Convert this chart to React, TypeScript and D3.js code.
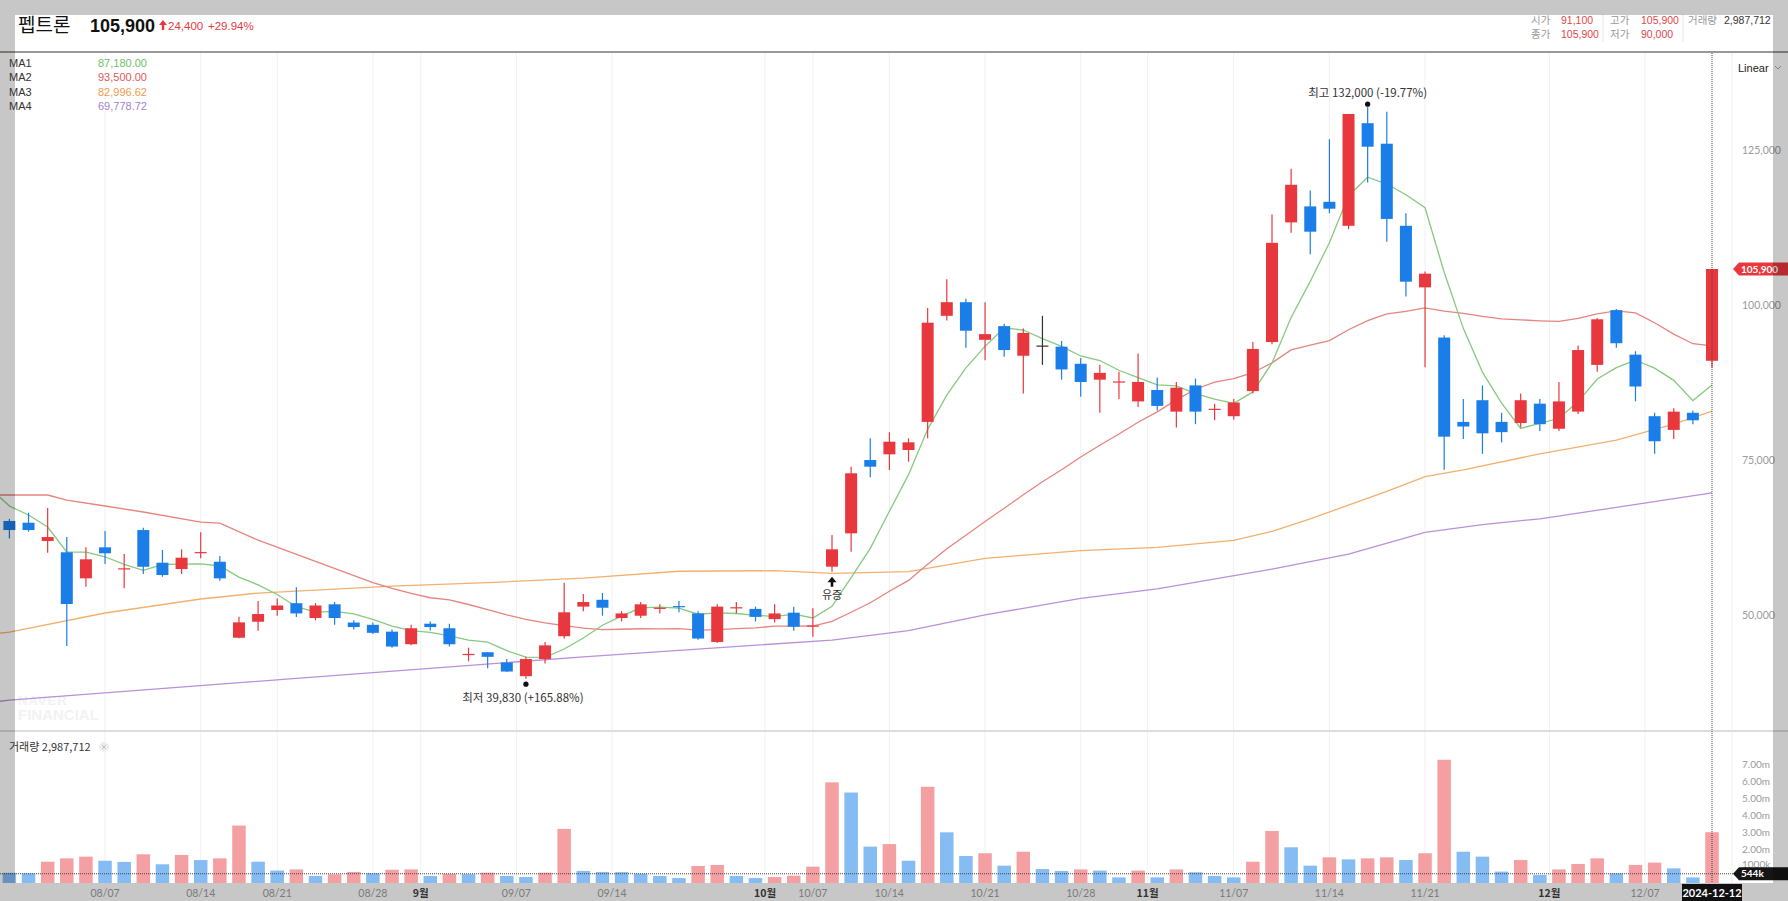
import React, { useEffect, useRef } from 'react'
import * as d3 from 'd3'

// trading days (2024), one candle each
const dates = [
  "07/31","08/01","08/02","08/05","08/06","08/07","08/08","08/09","08/12","08/13",
  "08/14","08/16","08/19","08/20","08/21","08/22","08/23","08/26","08/27","08/28",
  "08/29","08/30","09/02","09/03","09/04","09/05","09/06","09/09","09/10","09/11",
  "09/12","09/13","09/19","09/20","09/23","09/24","09/25","09/26","09/27","09/30",
  "10/02","10/04","10/07","10/08","10/10","10/11","10/14","10/15","10/16","10/17",
  "10/18","10/21","10/22","10/23","10/24","10/25","10/28","10/29","10/30","10/31",
  "11/01","11/04","11/05","11/06","11/07","11/08","11/11","11/12","11/13","11/14",
  "11/15","11/18","11/19","11/20","11/21","11/22","11/25","11/26","11/27","11/28",
  "11/29","12/02","12/03","12/04","12/05","12/06","12/09","12/10","12/11","12/12"
]

const opens = [
  65260, 64980, 62030, 60210, 56010, 61010, 57470, 63800, 58530, 57510,
  60150, 58690, 46430, 49010, 50900, 52000, 49610, 51820, 48880, 48510,
  47410, 45380, 48690, 47960, 43730, 44090, 42440, 40230, 42990, 46670,
  51450, 52550, 49610, 49980, 51170, 51540, 50350, 45750, 51170, 51080,
  49430, 50470, 48300, 57890, 63270, 75090, 76010, 76710, 81240, 98350,
  100550, 94480, 96690, 91910, 93560, 93380, 90620, 88050, 87590, 84550,
  86390, 82900, 87130, 83170, 82160, 86210, 94120, 113420, 116000, 116740,
  112870, 129420, 126110, 112870, 102940, 94850, 81240, 84740, 81240, 81060,
  84180, 80140, 82900, 90440, 99270, 92090, 82160, 79950, 82710, 91100
]
const highs = [
  65580, 66600, 67350, 62680, 61010, 63640, 59930, 64180, 60580, 60690,
  63430, 59610, 49820, 52350, 52740, 54580, 52000, 52180, 49240, 48880,
  47770, 48510, 49060, 48690, 44830, 44090, 42990, 43360, 45750, 55310,
  53470, 53660, 50710, 52180, 51820, 52370, 50710, 51820, 52190, 51450,
  51820, 51430, 51170, 63000, 74020, 78600, 79560, 78600, 99630, 104230,
  101100, 100550, 97060, 96320, 98350, 94300, 91540, 90440, 89330, 92280,
  88410, 87680, 88230, 84180, 84920, 94120, 114710, 122070, 118570, 126850,
  130900, 132000, 131260, 114900, 105520, 95220, 84920, 87130, 82710, 85840,
  84920, 87680, 93560, 97980, 99450, 92640, 82710, 83450, 83080, 105900
]
const lows = [
  62450, 63530, 60140, 45090, 54660, 58320, 54400, 56710, 56270, 56710,
  59240, 55630, 46330, 47560, 49980, 49790, 49240, 48510, 47770, 47040,
  44830, 45200, 47590, 45010, 42620, 41520, 40890, 39830, 42260, 46300,
  50710, 49980, 49060, 49610, 50350, 50530, 46120, 45570, 50350, 49060,
  48880, 47560, 46590, 57080, 60300, 72300, 73480, 74820, 78600, 97610,
  93200, 91170, 91730, 85840, 90440, 88050, 85290, 82710, 84920, 83630,
  83080, 80320, 80870, 81510, 81610, 85840, 93750, 111770, 108280, 114900,
  112320, 119860, 110300, 101470, 90070, 73520, 78490, 76090, 77930, 80320,
  79770, 79770, 82530, 89330, 93200, 84550, 76090, 78490, 80870, 90000
]
const closes = [
  63800, 63800, 62670, 51870, 59080, 60050, 57630, 57880, 56540, 59340,
  60250, 56010, 48910, 50250, 51630, 50350, 51630, 49610, 48150, 47220,
  45010, 47960, 48150, 45380, 43820, 43350, 40980, 42990, 45200, 50530,
  52190, 51270, 50350, 51820, 51270, 51350, 46300, 51450, 51350, 49790,
  50350, 48210, 48400, 60690, 72950, 74020, 78050, 77950, 97240, 100550,
  95950, 95400, 92830, 95590, 93560, 89700, 87680, 89150, 87770, 87680,
  83820, 86760, 82900, 83360, 84370, 93010, 110120, 119490, 111920, 115630,
  130900, 125630, 113980, 103860, 105150, 78860, 80500, 79400, 79590, 84740,
  80870, 84550, 92830, 97790, 93930, 86950, 78120, 82900, 81500, 105900
]
// volume in millions of shares
const volumes = [
  0.60, 0.57, 1.25, 1.45, 1.55, 1.31, 1.24, 1.69, 1.10, 1.65,
  1.35, 1.45, 3.38, 1.25, 0.73, 0.80, 0.41, 0.51, 0.65, 0.57,
  0.78, 0.80, 0.41, 0.54, 0.52, 0.61, 0.41, 0.35, 0.61, 3.18,
  0.71, 0.65, 0.64, 0.55, 0.41, 0.29, 1.00, 1.06, 0.41, 0.29,
  0.35, 0.43, 0.96, 5.92, 5.32, 2.14, 2.29, 1.31, 5.66, 2.98,
  1.59, 1.75, 1.02, 1.84, 0.82, 0.71, 0.80, 0.73, 0.33, 0.73,
  0.33, 0.80, 0.63, 0.41, 0.33, 1.25, 3.06, 2.10, 1.02, 1.51,
  1.39, 1.45, 1.51, 1.35, 1.75, 7.25, 1.84, 1.55, 0.67, 1.35,
  0.47, 0.80, 1.12, 1.45, 0.57, 1.06, 1.20, 0.86, 0.33, 2.987712
]

// moving averages, read at candle indices (-1 = the day before the first candle)
const ma1Index = d3.range(-1, 90)
const ma1Values = [
  70500,
  67680, 66220, 64290, 60260, 60240, 59490, 58260, 57300, 58240, 58290,
  58330, 58000, 56210, 54950, 53410, 51430, 50550, 50690, 50270, 49390,
  48320, 47590, 47300, 46740, 46060, 45730, 44340, 43300, 43270, 44610,
  46380, 48440, 49910, 51230, 51380, 51210, 50220, 50440, 50340, 50050,
  49850, 50230, 49620, 51490, 56120, 60850, 66820, 72730, 80040, 85560,
  89950, 93420, 96390, 96060, 94670, 93420, 91870, 91140, 89570, 88400,
  87220, 87040, 85790, 84900, 84240, 86080, 90750, 98070, 103900, 110150,
  117730, 120710, 119610, 117880, 115780, 105370, 96330, 89270, 84270, 80190,
  81020, 81830, 84520, 88160, 89990, 91210, 89920, 87940, 84680, 87180
]
const ma2Index = [-1, 0, 2, 3, 5, 7, 10, 11, 13, ...d3.range(19, 90)]
const ma2Values = [
  69450, 69450, 69450, 68640, 67680, 66710, 65090, 64930, 62160,
  55330, 54390, 53600, 52880, 52550, 51790, 50950, 50120, 49380, 48810,
  48370, 47970, 47730, 47800, 47880, 47860, 47910, 47650, 47740, 47900,
  48030, 48290, 48310, 48320, 49080, 50540, 52070, 53930, 55680, 58280,
  60780, 62970, 65170, 67300, 69490, 71600, 73520, 75590, 77470, 79290,
  81190, 82860, 84790, 86510, 87650, 88220, 89170, 90770, 92850, 93610,
  94360, 96110, 97590, 98650, 99060, 99640, 99100, 98740, 98250, 97850,
  97700, 97550, 97440, 97940, 98660, 99140, 98830, 97230, 95400, 93850, 93500
]
const ma3Index = [-1, 0, 5, 10, 13, 20, 25, 30, 35, 40, 43, 47, 51, 56, 60, 64, 66, 68, 70, 72, 74, 76, 80, 84, 87, 89]
const ma3Values = [
  47030, 47340, 50420, 52680, 53640, 54760, 55310, 56050, 57150, 57240, 56820, 57080, 59240,
  60470, 61000, 62120, 63590, 65610, 67820, 70020, 72410, 73520, 76090, 78300, 80870, 82996.62
]
const ma4Index = [-1, 0, 15, 30, 43, 47, 51, 56, 60, 66, 70, 74, 77, 80, 84, 89]
const ma4Values = [
  36000, 36370, 39870, 43350, 46060, 47560, 50100, 52790, 54300, 57500, 59910, 63410, 64690,
  65610, 67450, 69778.72
]

const maNames = ["MA1", "MA2", "MA3", "MA4"]
const maLabels = ["87,180.00", "93,500.00", "82,996.62", "69,778.72"]

const priceTicks = [125000, 100000, 75000, 50000]
const volumeTicks = [1, 2, 3, 4, 5, 6, 7]
const weekTicks = ["08/07", "08/14", "08/21", "08/28", "09/07", "09/14", "10/07", "10/14",
  "10/21", "10/28", "11/07", "11/14", "11/21", "12/07"]
const monthTicks = ["09/01", "10/01", "11/01", "12/01"]
const monthLabels = ["9월", "10월", "11월", "12월"]

const KR = "'Noto Sans CJK KR', 'Noto Sans', sans-serif"
const ARIAL = "'Liberation Sans', Arial, sans-serif"
const NUM = "Lato, 'Liberation Sans', sans-serif"

const RED = "#e8383d"
const BLUE = "#1b7de8"
const maColors = ["#86c97f", "#e6847f", "#f2b06e", "#b990d9"]
const maTextColors = ["#6cbf64", "#e0585a", "#ef9a4c", "#9f7fd2"]

export default function App() {
  const svgRef = useRef<SVGSVGElement>(null)

  useEffect(() => {
    document.body.style.margin = '0'
    if (!svgRef.current) return
    const svg = d3.select(svgRef.current)
    svg.selectAll("*").remove()

    const n = dates.length
    const x = d3.scaleLinear().domain([0, n - 1]).range([9.4, 1712])
    const y = d3.scaleLinear().domain([50000, 125000]).range([615.6, 150.6])
    const yVol = d3.scaleLinear().domain([0, 7]).range([883, 764])

    // tick position: exact candle for a trading day, boundary otherwise
    const tickPos = (md: string, exact: boolean) => {
      const k = dates.findIndex(d => d >= md)
      return exact && dates[k] === md ? k : k - 0.5
    }

    svg.append("rect").attr("width", 1788).attr("height", 901).attr("fill", "#fff")

    const defs = svg.append("defs")
    defs.append("clipPath").attr("id", "pricePane")
      .append("rect").attr("x", 0).attr("y", 53).attr("width", 1732).attr("height", 678)
    defs.append("clipPath").attr("id", "volPane")
      .append("rect").attr("x", 0).attr("y", 732).attr("width", 1732).attr("height", 151)

    // vertical grid
    const gridPos = [...weekTicks.map(t => tickPos(t, true)), ...monthTicks.map(t => tickPos(t, false))]
    svg.selectAll(".grid-x")
      .data(gridPos)
      .enter()
      .append("line")
      .attr("x1", d => x(d)).attr("x2", d => x(d))
      .attr("y1", 53).attr("y2", 883)
      .attr("stroke", "#f0f0f0")
    svg.append("line")
      .attr("x1", 1732).attr("x2", 1732).attr("y1", 53).attr("y2", 883)
      .attr("stroke", "#eeeeee")

    // watermark
    svg.append("text").attr("x", 18).attr("y", 705)
      .style("font-family", ARIAL).style("font-weight", "bold").style("font-size", "13px")
      .attr("fill", "#f2f2f2").attr("letter-spacing", 1).text("NAVER")
    svg.append("text").attr("x", 18).attr("y", 720)
      .style("font-family", ARIAL).style("font-weight", "bold").style("font-size", "15px")
      .attr("fill", "#f2f2f2").text("FINANCIAL")

    // price pane
    const price = svg.append("g").attr("clip-path", "url(#pricePane)")

    const maLine = (idx: number[], vals: number[], color: string) => {
      const pts = idx.map((k, j) => [x(k), y(vals[j])] as [number, number])
      price.append("path")
        .attr("d", d3.line()(pts))
        .attr("fill", "none")
        .attr("stroke", color)
        .attr("stroke-width", 1.3)
    }
    maLine(ma4Index, ma4Values, maColors[3])
    maLine(ma3Index, ma3Values, maColors[2])
    maLine(ma2Index, ma2Values, maColors[1])
    maLine(ma1Index, ma1Values, maColors[0])

    const candleColor = (i: number) =>
      closes[i] > opens[i] ? RED : closes[i] < opens[i] ? BLUE : "#333"
    const idxs = d3.range(n)

    price.selectAll(".wick")
      .data(idxs)
      .enter()
      .append("line")
      .attr("x1", i => x(i)).attr("x2", i => x(i))
      .attr("y1", i => y(highs[i])).attr("y2", i => y(lows[i]))
      .attr("stroke", i => candleColor(i))
      .attr("stroke-width", 1.2)

    price.selectAll(".body")
      .data(idxs)
      .enter()
      .append("rect")
      .attr("x", i => x(i) - 6)
      .attr("width", 12)
      .attr("y", i => y(Math.max(opens[i], closes[i])))
      .attr("height", i => Math.max(1.2, Math.abs(y(opens[i]) - y(closes[i]))))
      .attr("fill", i => candleColor(i))

    // annotations
    const hi = d3.maxIndex(highs)
    const lo = d3.minIndex(lows)
    price.append("circle").attr("cx", x(hi)).attr("cy", y(highs[hi]) - 3).attr("r", 2.6).attr("fill", "#111")
    price.append("text").attr("x", x(hi)).attr("y", y(highs[hi]) - 10)
      .attr("text-anchor", "middle").style("font-family", KR).style("font-size", "11.5px")
      .attr("fill", "#333").text("최고 132,000 (-19.77%)")
    price.append("circle").attr("cx", x(lo)).attr("cy", y(lows[lo]) + 5.5).attr("r", 2.6).attr("fill", "#111")
    price.append("text").attr("x", x(lo) - 3).attr("y", y(lows[lo]) + 23)
      .attr("text-anchor", "middle").style("font-family", KR).style("font-size", "11.5px")
      .attr("fill", "#333").text("최저 39,830 (+165.88%)")

    const ev = dates.indexOf("10/08")
    const ax = x(ev), ay = y(lows[ev]) + 5
    price.append("path")
      .attr("d", `M${ax},${ay} L${ax - 4.5},${ay + 5.5} L${ax - 1.3},${ay + 5.5} L${ax - 1.3},${ay + 10} L${ax + 1.3},${ay + 10} L${ax + 1.3},${ay + 5.5} L${ax + 4.5},${ay + 5.5} Z`)
      .attr("fill", "#111")
    price.append("text").attr("x", ax).attr("y", ay + 22)
      .attr("text-anchor", "middle").style("font-family", KR).style("font-size", "11px")
      .attr("fill", "#333").text("유증")

    // volume pane
    const vol = svg.append("g").attr("clip-path", "url(#volPane)")
    vol.selectAll(".vbar")
      .data(idxs)
      .enter()
      .append("rect")
      .attr("x", i => x(i) - 6.75)
      .attr("width", 13.5)
      .attr("y", i => yVol(volumes[i]))
      .attr("height", i => 883 - yVol(volumes[i]))
      .attr("fill", i => (i > 0 && volumes[i] > volumes[i - 1] ? "#f4a0a2" : "#84bcf3"))

    // pane separator
    svg.append("line").attr("x1", 0).attr("x2", 1788).attr("y1", 731).attr("y2", 731)
      .attr("stroke", "#dddddd").attr("stroke-width", 2)

    // right axis labels
    svg.selectAll(".ptick")
      .data(priceTicks)
      .enter()
      .append("text")
      .attr("x", 1742).attr("y", d => y(d)).attr("dy", "0.35em")
      .style("font-family", NUM).style("font-size", "10.5px")
      .attr("fill", "#9a9a9a")
      .text(d => d3.format(",")(d))
    svg.selectAll(".vtick")
      .data(volumeTicks)
      .enter()
      .append("text")
      .attr("x", 1742).attr("y", d => yVol(d) - (d === 1 ? 2 : 0)).attr("dy", "0.35em")
      .style("font-family", NUM).style("font-size", "10px")
      .attr("fill", "#9a9a9a")
      .text(d => (d === 1 ? "1000k" : `${d.toFixed(2)}m`))

    svg.append("text").attr("x", 1738).attr("y", 72)
      .style("font-family", ARIAL).style("font-size", "11px").attr("fill", "#222").text("Linear")
    svg.append("path").attr("d", "M1775,66 L1778,69 L1781,66")
      .attr("fill", "none").attr("stroke", "#aaa")

    // crosshair
    const last = n - 1
    const cy = yVol(0.544)
    svg.append("line").attr("x1", x(last)).attr("x2", x(last)).attr("y1", 53).attr("y2", 883)
      .attr("stroke", "#444").attr("stroke-dasharray", "1,1")
    svg.append("line").attr("x1", 0).attr("x2", 1733).attr("y1", cy).attr("y2", cy)
      .attr("stroke", "#444").attr("stroke-dasharray", "1,1")

    // value tags
    const tag = (ty: number, fill: string, label: string) => {
      svg.append("path")
        .attr("d", `M1733,${ty} L1739,${ty - 6.5} L1788,${ty - 6.5} L1788,${ty + 6.5} L1739,${ty + 6.5} Z`)
        .attr("fill", fill)
      svg.append("text").attr("x", 1741).attr("y", ty).attr("dy", "0.35em")
        .style("font-family", NUM).style("font-size", "10px").style("font-weight", "bold")
        .attr("fill", "#fff").text(label)
    }
    tag(y(closes[last]), RED, d3.format(",")(closes[last]))
    tag(cy, "#151515", "544k")

    // header
    svg.append("line").attr("x1", 0).attr("x2", 1788).attr("y1", 52).attr("y2", 52)
      .attr("stroke", "#777").attr("stroke-width", 1.5)
    svg.append("text").attr("x", 18).attr("y", 32)
      .style("font-family", KR).style("font-size", "19px").attr("fill", "#111").text("펩트론")
    svg.append("text").attr("x", 90).attr("y", 32)
      .style("font-family", ARIAL).style("font-size", "18px").style("font-weight", "bold")
      .attr("fill", "#111").text("105,900")
    svg.append("path").attr("d", "M163,20 L159,25 L161.8,25 L161.8,30 L164.2,30 L164.2,25 L167,25 Z")
      .attr("fill", RED)
    svg.append("text").attr("x", 168).attr("y", 30)
      .style("font-family", ARIAL).style("font-size", "11.5px").attr("fill", RED).text("24,400")
    svg.append("text").attr("x", 208).attr("y", 30)
      .style("font-family", ARIAL).style("font-size", "11.5px").attr("fill", RED).text("+29.94%")

    const headRows = [
      { lx: 1531, vx: 1561, yy: 24, label: "시가", value: "91,100" },
      { lx: 1531, vx: 1561, yy: 38, label: "종가", value: "105,900" },
      { lx: 1610, vx: 1641, yy: 24, label: "고가", value: "105,900" },
      { lx: 1610, vx: 1641, yy: 38, label: "저가", value: "90,000" },
    ]
    headRows.forEach(r => {
      svg.append("text").attr("x", r.lx).attr("y", r.yy)
        .style("font-family", KR).style("font-size", "10.5px").attr("fill", "#999").text(r.label)
      svg.append("text").attr("x", r.vx).attr("y", r.yy)
        .style("font-family", ARIAL).style("font-size", "10.5px").attr("fill", "#e0474a").text(r.value)
    })
    svg.append("text").attr("x", 1688).attr("y", 24)
      .style("font-family", KR).style("font-size", "10.5px").attr("fill", "#999").text("거래량")
    svg.append("text").attr("x", 1724).attr("y", 24)
      .style("font-family", ARIAL).style("font-size", "10.5px").attr("fill", "#333").text("2,987,712")
    ;[1603, 1683].forEach(sx => {
      svg.append("line").attr("x1", sx).attr("x2", sx).attr("y1", 14).attr("y2", 42).attr("stroke", "#e6e6e6")
    })

    // gray frame (semi transparent, as in the screenshot)
    const frame = [
      [0, 0, 15, 901], [15, 0, 1758, 15], [1773, 0, 15, 901], [15, 883, 1758, 18],
    ]
    frame.forEach(([fx, fy, fw, fh]) => {
      svg.append("rect").attr("x", fx).attr("y", fy).attr("width", fw).attr("height", fh)
        .attr("fill", "#000").attr("fill-opacity", 0.22)
    })

    // MA legend
    maNames.forEach((m, k) => {
      svg.append("text").attr("x", 9).attr("y", 67 + k * 14.3)
        .style("font-family", ARIAL).style("font-size", "11px").attr("fill", "#333").text(m)
      svg.append("text").attr("x", 98).attr("y", 67 + k * 14.3)
        .style("font-family", ARIAL).style("font-size", "11px").attr("fill", maTextColors[k]).text(maLabels[k])
    })

    // volume title
    svg.append("text").attr("x", 9).attr("y", 751)
      .style("font-family", KR).style("font-size", "11px").attr("fill", "#333").text("거래량 2,987,712")
    svg.append("circle").attr("cx", 104).attr("cy", 747).attr("r", 5).attr("fill", "#eeeeee")
    svg.append("path").attr("d", "M102,745 L106,749 M106,745 L102,749").attr("stroke", "#c4c4c4")

    // x axis labels
    svg.selectAll(".wlabel")
      .data(weekTicks)
      .enter()
      .append("text")
      .attr("x", d => x(tickPos(d, true))).attr("y", 897)
      .attr("text-anchor", "middle")
      .style("font-family", NUM).style("font-size", "10.5px")
      .attr("fill", "#7a7a7a")
      .text(d => d)
    svg.selectAll(".mlabel")
      .data(monthTicks)
      .enter()
      .append("text")
      .attr("x", d => x(tickPos(d, false))).attr("y", 897)
      .attr("text-anchor", "middle")
      .style("font-family", KR).style("font-size", "10.5px").style("font-weight", "bold")
      .attr("fill", "#333")
      .text((d, k) => monthLabels[k])

    svg.append("rect").attr("x", x(last) - 30).attr("y", 884).attr("width", 60).attr("height", 17)
      .attr("fill", "#111")
    svg.append("text").attr("x", x(last)).attr("y", 897).attr("text-anchor", "middle")
      .style("font-family", NUM).style("font-size", "11px").style("font-weight", "bold")
      .attr("fill", "#fff").text("2024-12-12")
  }, [])

  return (
    <svg ref={svgRef} width={1788} height={901} style={{ display: 'block' }} />
  )
}
